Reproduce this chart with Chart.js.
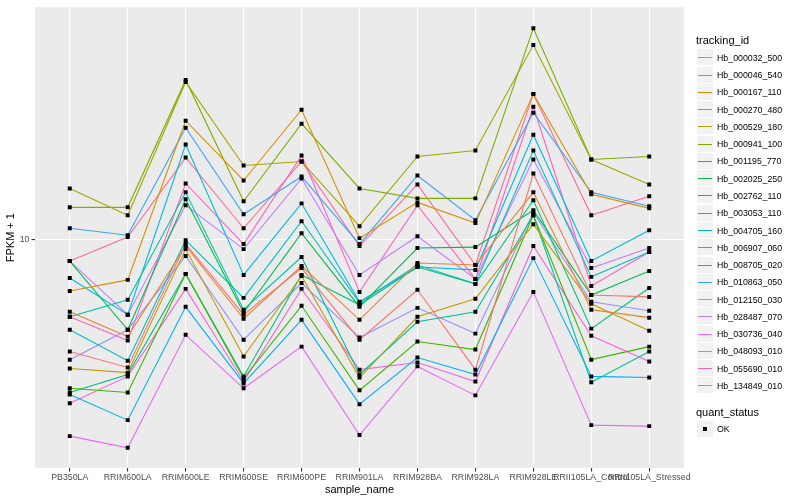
<!DOCTYPE html>
<html>
<head>
<meta charset="utf-8">
<script src="https://cdn.jsdelivr.net/npm/chart.js@4"></script>
<style>
  html, body { margin: 0; padding: 0; background: #ffffff; }
  #wrap { position: relative; width: 800px; height: 500px; font-family: "Liberation Sans", Arial, sans-serif; }
  #chart { position: absolute; left: 0; top: 0; }
  .lg-title { position: absolute; left: 696px; font-size: 11px; color: #000; line-height: 13px; }
  .lg-key { position: absolute; left: 697px; width: 16px; height: 16px; background: #F2F2F2; }
  .lg-line { position: absolute; left: 1px; width: 14px; top: 8px; height: 1px; }
  .lg-sq { position: absolute; left: 6px; top: 6px; width: 4px; height: 4px; background: #000; }
  .lg-text { position: absolute; left: 717px; font-size: 8.8px; color: #000; line-height: 10px; white-space: nowrap; }
</style>
</head>
<body>
<div id="wrap">
  <canvas id="chart" width="800" height="500"></canvas>
</div>
<script>
// ---- data (FPKM + 1) ----
const sampleNames = ["PB350LA","RRIM600LA","RRIM600LE","RRIM600SE","RRIM600PE","RRIM901LA","RRIM928BA","RRIM928LA","RRIM928LE","RRII105LA_Control","RRII105LA_Stressed"];
const trackingIds = ["Hb_000032_500","Hb_000046_540","Hb_000167_110","Hb_000270_480","Hb_000529_180","Hb_000941_100","Hb_001195_770","Hb_002025_250","Hb_002762_110","Hb_003053_110","Hb_004705_160","Hb_006907_060","Hb_008705_020","Hb_010863_050","Hb_012150_030","Hb_028487_070","Hb_030736_040","Hb_048093_010","Hb_055690_010","Hb_134849_010"];
const quantStatus = ["OK"];
const yTickValues = [10];

const hb_000032_500 = [5.22, 4.76, 9.72, 6.46, 8.46, 5.59, 7.46, 4.70, 14.62, 7.24, 7.16];
const hb_000046_540 = [6.57, 5.69, 9.61, 6.31, 8.56, 6.27, 8.71, 8.61, 13.11, 6.65, 6.35];
const hb_000167_110 = [7.41, 7.90, 19.84, 14.04, 21.14, 10.06, 12.37, 10.97, 23.17, 12.96, 11.95];
const hb_000270_480 = [4.73, 4.62, 9.44, 5.07, 8.08, 4.49, 6.38, 7.08, 10.90, 6.88, 5.89];
const hb_000529_180 = [13.41, 11.48, 24.83, 15.31, 15.67, 10.78, 16.13, 16.69, 30.73, 15.85, 13.72];
const hb_000941_100 = [12.02, 12.02, 25.12, 12.45, 19.50, 13.41, 12.66, 12.66, 33.89, 15.85, 16.13];
const hb_001195_770 = [4.22, 4.12, 8.18, 4.47, 6.80, 4.17, 5.53, 5.28, 11.48, 4.98, 5.37];
const hb_002025_250 = [8.81, 5.92, 12.59, 6.53, 10.35, 6.76, 9.50, 9.55, 11.82, 7.24, 8.32];
const hb_002762_110 = [4.12, 4.57, 8.18, 4.52, 8.13, 6.84, 8.51, 7.72, 12.52, 5.96, 7.54];
const hb_003053_110 = [6.38, 7.04, 13.11, 6.65, 9.02, 4.57, 6.20, 6.57, 11.48, 4.37, 5.22];
const hb_004705_160 = [5.92, 4.95, 9.94, 7.12, 11.09, 6.92, 8.61, 7.72, 16.69, 8.04, 9.28];
const hb_006907_060 = [7.99, 6.46, 17.28, 8.13, 12.30, 6.96, 8.51, 8.37, 18.30, 8.81, 10.53];
const hb_008705_020 = [4.07, 3.51, 6.76, 4.34, 6.27, 3.85, 5.04, 4.57, 8.96, 4.52, 4.49];
const hb_010863_050 = [10.65, 10.23, 19.05, 11.55, 14.37, 9.72, 14.45, 11.16, 20.77, 13.11, 12.09];
const hb_012150_030 = [4.98, 5.92, 9.07, 5.59, 7.76, 5.66, 6.72, 5.79, 11.68, 6.96, 6.61];
const hb_028487_070 = [8.81, 6.46, 12.16, 9.44, 14.21, 8.13, 10.17, 7.94, 15.85, 8.46, 9.50];
const hb_030736_040 = [3.20, 2.99, 5.75, 4.22, 5.37, 3.22, 4.79, 4.05, 7.37, 3.41, 3.39];
const hb_048093_010 = [3.87, 4.52, 7.50, 4.39, 7.50, 4.70, 4.90, 4.39, 9.61, 5.72, 4.93];
const hb_055690_010 = [6.38, 5.56, 13.80, 9.72, 16.22, 7.37, 12.16, 7.94, 21.50, 7.63, 9.28];
const hb_134849_010 = [8.81, 10.12, 16.03, 10.65, 15.67, 9.61, 13.72, 8.61, 23.17, 11.48, 12.81];

const seriesValues = [hb_000032_500, hb_000046_540, hb_000167_110, hb_000270_480, hb_000529_180, hb_000941_100, hb_001195_770, hb_002025_250, hb_002762_110, hb_003053_110, hb_004705_160, hb_006907_060, hb_008705_020, hb_010863_050, hb_012150_030, hb_028487_070, hb_030736_040, hb_048093_010, hb_055690_010, hb_134849_010];

// ---- styles ----
const hueColors = ["#F8766D","#EA8331","#D89000","#C09B00","#A3A500","#7CAE00","#39B600","#00BB4E","#00BF7D","#00C1A3","#00BFC4","#00BAE0","#00B0F6","#35A2FF","#9590FF","#C77CFF","#E76BF3","#FA62DB","#FF62BC","#FF6C91"];

Chart.defaults.font.family = '"Liberation Sans", Arial, sans-serif';

const lineSets = trackingIds.map((id, i) => ({
  label: id,
  data: seriesValues[i].map((v, j) => ({ x: j, y: v })),
  borderColor: hueColors[i],
  borderWidth: 1.1,
  pointRadius: 0,
  tension: 0,
  fill: false,
  order: 10
}));
const pointSets = trackingIds.map((id, i) => ({
  label: id + " (" + quantStatus[0] + ")",
  data: seriesValues[i].map((v, j) => ({ x: j, y: v })),
  showLine: false,
  pointStyle: 'rect',
  pointRadius: 2.8,
  pointBackgroundColor: '#000',
  pointBorderColor: '#000',
  pointBorderWidth: 0,
  order: 0
}));

const panelBg = {
  id: 'panelBg',
  beforeDraw(chart) {
    const a = chart.chartArea, c = chart.ctx;
    c.save();
    c.fillStyle = '#EBEBEB';
    c.fillRect(a.left, a.top, a.right - a.left, a.bottom - a.top);
    c.restore();
  }
};

new Chart(document.getElementById('chart'), {
  type: 'line',
  data: { datasets: lineSets.concat(pointSets) },
  plugins: [panelBg],
  options: {
    responsive: false,
    animation: false,
    devicePixelRatio: 1,
    layout: { padding: { left: 0, top: 5, right: 116, bottom: 0 } },
    plugins: { legend: { display: false }, tooltip: { enabled: false } },
    scales: {
      x: {
        type: 'linear',
        min: -0.6,
        max: sampleNames.length - 1 + 0.6,
        afterBuildTicks(scale) { scale.ticks = sampleNames.map((_, i) => ({ value: i })); },
        afterFit(scale) { scale.height = 32; },
        ticks: {
          autoSkip: false, maxRotation: 0, minRotation: 0,
          callback: (v) => sampleNames[Math.round(v)],
          font: { size: 8.8 }, color: '#4D4D4D', padding: 1
        },
        grid: { color: '#FFFFFF', lineWidth: 1.1, tickColor: '#333333', tickLength: 3.5, drawTicks: true },
        border: { display: false },
        title: { display: true, text: 'sample_name', font: { size: 11 }, color: '#000', padding: { top: 2, bottom: 3 } }
      },
      y: {
        type: 'logarithmic',
        min: 2.661,
        max: 38.24,
        afterBuildTicks(scale) { scale.ticks = yTickValues.map(v => ({ value: v })); },
        afterFit(scale) { scale.width = 35; },
        ticks: { callback: (v) => String(v), font: { size: 8.8 }, color: '#4D4D4D', padding: 2 },
        grid: { color: '#FFFFFF', lineWidth: 1.1, tickColor: '#333333', tickLength: 3.5, drawTicks: true },
        border: { display: false },
        title: { display: true, text: 'FPKM + 1', font: { size: 11 }, color: '#000', padding: { top: 4, bottom: 4 } }
      }
    }
  }
});

// ---- legend (HTML) ----
const wrap = document.getElementById('wrap');
function add(cls, top, text) {
  const d = document.createElement('div');
  d.className = cls; d.style.top = Math.round(top) + 'px';
  if (text !== undefined) d.textContent = text;
  wrap.appendChild(d); return d;
}
add('lg-title', 34, 'tracking_id');
const step = 17.27, first = 49.3;
trackingIds.forEach((id, i) => {
  const t = first + i * step;
  const k = add('lg-key', t);
  const ln = document.createElement('div');
  ln.className = 'lg-line'; ln.style.background = hueColors[i];
  k.appendChild(ln);
  add('lg-text', t + 3.5, id);
});
add('lg-title', 405.5, 'quant_status');
const kq = add('lg-key', 420.5);
const sq = document.createElement('div'); sq.className = 'lg-sq'; kq.appendChild(sq);
add('lg-text', 424, quantStatus[0]);
</script>
</body>
</html>
